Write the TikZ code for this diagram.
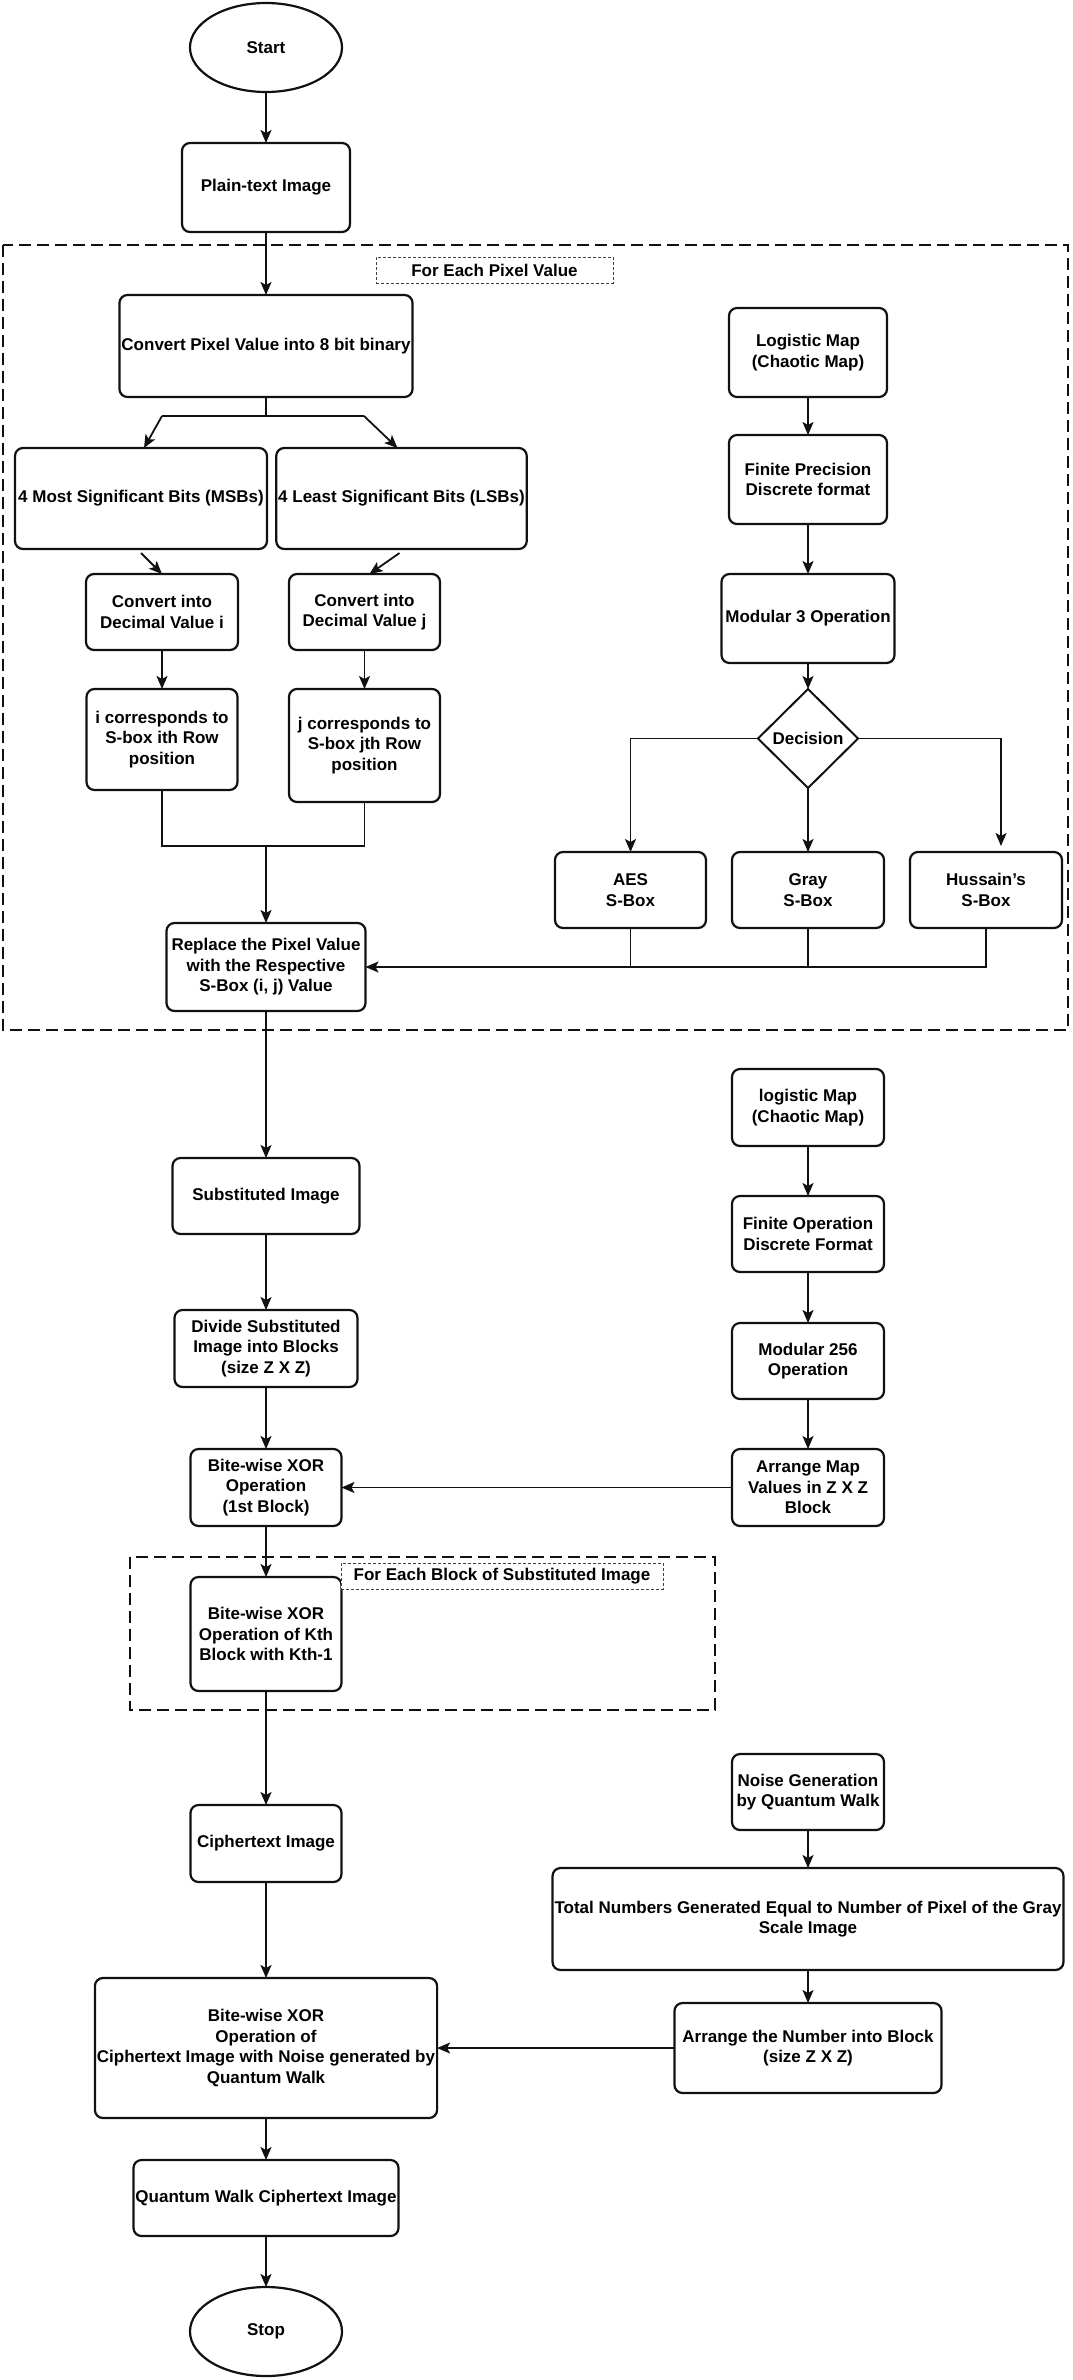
\documentclass[tikz,border=0pt]{standalone}
\usepackage{fontspec}
\setmainfont{Liberation Sans}
\usepackage{xcolor}
\usepackage{tikz}
\usetikzlibrary{arrows.meta, positioning, shapes.geometric}
\definecolor{flowink}{RGB}{17, 17, 17}

\begin{document}
\begin{tikzpicture}[
  x=1pt, y=-1pt,
  font=\fontsize{17}{20.5}\selectfont\bfseries,
  proc/.style 2 args={rectangle, rounded corners=8pt, draw=flowink, fill=white,
              minimum width=#1, minimum height=#2, align=center,
              inner sep=2pt, outer sep=0pt, line width=2.2pt},
  term/.style={ellipse, draw=flowink, fill=white, minimum width=152pt,
               minimum height=89pt, outer sep=0pt, line width=2.2pt},
  decide/.style={diamond, draw=flowink, fill=white, minimum width=100pt,
                 minimum height=99pt, inner sep=0pt, outer sep=0pt, line width=2pt},
  arrow/.style={-{Stealth[length=13pt, width=11pt, inset=3pt]},
                line width=1.8pt, color=flowink},
  link/.style={line width=1.8pt, color=flowink},
  region/.style={draw=flowink, line width=2.4pt, dash pattern=on 12pt off 6pt},
  tag/.style={rectangle, draw=flowink!80, fill=white, line width=1pt,
              dash pattern=on 3pt off 2pt, minimum height=26pt, inner sep=2pt,
              outer sep=0pt},
]

\useasboundingbox (0,0) rectangle (1073,2380);

% Loop regions
\draw[region] (3,245) rectangle (1068,1030);
\draw[region] (130,1557) rectangle (715,1710);

% Substitution stage
\node[term] (start) at (266,47.5) {Start};
\node[proc={168pt}{89pt}, below=51pt of start] (plain) {Plain-text Image};
\node[proc={292pt}{102pt}, below=63pt of plain] (conv)
  {Convert Pixel Value into 8 bit binary};
\node[proc={252pt}{101pt}, below=51pt of conv, xshift=-125pt] (msb)
  {4 Most Significant Bits (MSBs)};
\node[proc={249pt}{101pt}, below=51pt of conv, xshift=135.5pt] (lsb)
  {4 Least Significant Bits (LSBs)};
\node[proc={152pt}{76pt}, below=25pt of msb, xshift=21pt] (deci)
  {Convert into\\Decimal Value i};
\node[proc={151pt}{76pt}, below=25pt of lsb, xshift=-37pt] (decj)
  {Convert into\\Decimal Value j};
\node[proc={151pt}{101pt}, below=39pt of deci] (rowi)
  {i corresponds to\\S-box ith Row\\position};
\node[proc={151pt}{113pt}, below=39pt of decj] (rowj)
  {j corresponds to\\S-box jth Row\\position};
\node[proc={199pt}{88pt}, below=526pt of conv] (replace)
  {Replace the Pixel Value\\with the Respective\\S-Box (i, j) Value};

% S-box selection
\node[proc={158pt}{89pt}] (logis) at (808,352.5) {Logistic Map\\(Chaotic Map)};
\node[proc={158pt}{89pt}, below=38pt of logis] (finite)
  {Finite Precision\\Discrete format};
\node[proc={173pt}{89pt}, below=50pt of finite] (mod3) {Modular 3 Operation};
\node[decide, below=26pt of mod3] (dec) {Decision};
\node[proc={152pt}{76pt}, below=64pt of dec] (gray) {Gray\\S-Box};
\node[proc={151pt}{76pt}, left=26pt of gray] (aes) {AES\\S-Box};
\node[proc={152pt}{76pt}, right=26pt of gray] (huss) {Hussain’s\\S-Box};

\node[tag, minimum width=237pt] (pixeltag) at (494.5,270) {For Each Pixel Value};

% Diffusion stage
\node[proc={187pt}{76pt}, below=147pt of replace] (subst) {Substituted Image};
\node[proc={183pt}{77pt}, below=76pt of subst] (divide)
  {Divide Substituted\\Image into Blocks\\(size Z X Z)};
\node[proc={151pt}{77pt}, below=62pt of divide] (xorfirst)
  {Bite-wise XOR\\Operation\\(1st Block)};
\node[proc={151pt}{114pt}, below=51pt of xorfirst] (xork)
  {Bite-wise XOR\\Operation of Kth\\Block with Kth-1};
\node[proc={151pt}{77pt}, below=114pt of xork] (cipher) {Ciphertext Image};

\node[proc={152pt}{77pt}, below=141pt of gray] (logis2) {logistic Map\\(Chaotic Map)};
\node[proc={152pt}{76pt}, below=50pt of logis2] (finite2)
  {Finite Operation\\Discrete Format};
\node[proc={152pt}{76pt}, below=51pt of finite2] (mod256) {Modular 256\\Operation};
\node[proc={152pt}{77pt}, below=50pt of mod256] (arrmap)
  {Arrange Map\\Values in Z X Z\\Block};

\node[tag, minimum width=322pt] (blocktag) at (502,1576)
  {For Each Block of Substituted Image};

% Quantum walk stage
\node[proc={152pt}{76pt}, below=228pt of arrmap] (noise)
  {Noise Generation\\by Quantum Walk};
\node[proc={507pt}{102pt}, below=38pt of noise] (total)
  {Total Numbers Generated Equal to Number of Pixel of the Gray\\Scale Image};
\node[proc={267pt}{90pt}, below=33pt of total] (arrnum)
  {Arrange the Number into Block\\(size Z X Z)};
\node[proc={338pt}{140pt}, below=96pt of cipher] (xornoise)
  {Bite-wise XOR\\Operation of\\Ciphertext Image with Noise generated by\\Quantum Walk};
\node[proc={257pt}{76pt}, below=42pt of xornoise] (qwimage)
  {Quantum Walk Ciphertext Image};
\node[term, below=51pt of qwimage] (stop) {Stop};

% Arrows: substitution
\draw[arrow] (start) -- (plain);
\draw[arrow] (plain) -- (conv);
\draw[link] (conv.south) -- ++(0,19) coordinate (split);
\coordinate (splitL) at ([xshift=-104pt]split);
\coordinate (splitR) at ([xshift=98pt]split);
\draw[link] (splitL) -- (splitR);
\draw[arrow] (splitL) -- ([xshift=3pt]msb.north);
\draw[arrow] (splitR) -- ([xshift=-4pt]lsb.north);
\draw[arrow] ([yshift=-4pt]msb.south) -- (deci.north);
\draw[arrow] ([xshift=-2pt, yshift=-4pt]lsb.south) -- ([xshift=5pt]decj.north);
\draw[arrow] (deci) -- (rowi);
\draw[arrow] (decj) -- (rowj);
\coordinate (merge) at (266,846);
\draw[link] (rowi.south) |- (merge) -| (rowj.south);
\draw[arrow] (merge) -- (replace.north);

% Arrows: S-box choice
\draw[arrow] (logis) -- (finite);
\draw[arrow] (finite) -- (mod3);
\draw[arrow] (mod3) -- (dec);
\draw[arrow] (dec.west) -| (aes.north);
\draw[arrow] (dec) -- (gray);
\draw[arrow] (dec.east) -| ([xshift=15pt, yshift=6pt]huss.north);
\draw[link] (aes.south) -- (aes.south |- replace.east);
\draw[link] (gray.south) -- (gray.south |- replace.east);
\draw[arrow] (huss.south) |- (replace.east);

% Arrows: diffusion
\draw[arrow] (replace) -- (subst);
\draw[arrow] (subst) -- (divide);
\draw[arrow] (divide) -- (xorfirst);
\draw[arrow] (logis2) -- (finite2);
\draw[arrow] (finite2) -- (mod256);
\draw[arrow] (mod256) -- (arrmap);
\draw[arrow] (arrmap) -- (xorfirst);
\draw[arrow] (xorfirst) -- (xork);
\draw[arrow] (xork) -- (cipher);

% Arrows: quantum walk
\draw[arrow] (noise) -- (total);
\draw[arrow] (total) -- (arrnum);
\draw[arrow] (arrnum) -- (xornoise);
\draw[arrow] (cipher) -- (xornoise);
\draw[arrow] (xornoise) -- (qwimage);
\draw[arrow] (qwimage) -- (stop);

\end{tikzpicture}
\end{document}
